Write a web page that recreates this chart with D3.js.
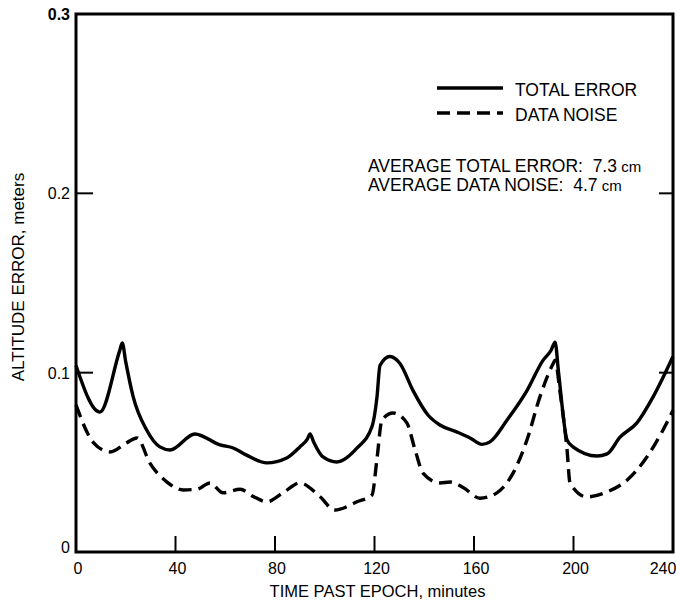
<!DOCTYPE html>
<meta charset="utf-8">
<html lang="en">
<style>
    body {
        margin: 0;
        background: #fff;
        font-family: "Liberation Sans", Arial, sans-serif;
    }
    .frame {
        fill: none;
        stroke: #000;
        stroke-width: 3px;
    }
    .tick-mark {
        stroke: #000;
        stroke-width: 2px;
    }
    .line {
        fill: none;
        stroke: #000;
        stroke-width: 3.4px;
        stroke-linejoin: round;
    }
    .dashed {
        stroke-dasharray: 13, 7;
    }
    text {
        fill: #000;
    }
</style>
<head>
    <script src="https://d3js.org/d3.v7.min.js"></script>
</head>
<body>
<svg width="676" height="607"></svg>
<script>

    // minutes past epoch / altitude error (meters)
    var totalTime = [0, 9.6, 17.5, 18.6, 20, 23, 28.4, 33.7, 37.8, 47.8, 57.9, 63.2, 68.6, 76.7, 84.7, 90,
        93, 94.1, 95.5, 99.3, 104.9, 113, 119, 121, 122.2, 126.2, 130.3, 135.5, 141.5, 146.3, 153,
        158.4, 163.2, 166.4, 173.3, 181.3, 187.8, 191, 192.6, 194, 197.4, 199.8, 209.4, 213.5,
        218.7, 225.5, 232, 240];
    var totalError = [0.104, 0.078, 0.112, 0.1166, 0.106, 0.0865, 0.068, 0.0586, 0.0569, 0.0658, 0.0597,
        0.058, 0.054, 0.0497, 0.0524, 0.0586, 0.063, 0.0658, 0.0615, 0.053, 0.0502, 0.058, 0.070,
        0.0865, 0.104, 0.109, 0.105, 0.090, 0.0764, 0.0708, 0.067, 0.0636, 0.060, 0.0614, 0.0736,
        0.090, 0.107, 0.1125, 0.117, 0.100, 0.0625, 0.0586, 0.0535, 0.0547, 0.064, 0.072, 0.0865,
        0.109];

    var noiseTime = [0, 7, 13.7, 20.5, 24.5, 29.7, 36.6, 43, 48.6, 53.9, 59.1, 66, 71.2, 76.7, 83.2, 90,
        98, 104, 113, 119, 121, 123, 127.5, 133, 136.3, 139.5, 146.3, 150.4, 155.6, 162.4, 169.2,
        175.7, 181.3, 186.5, 191.8, 192.6, 194.5, 197.4, 198.6, 205.4, 213.5, 221.5, 229.5, 236, 240];
    var dataNoise = [0.082, 0.061, 0.0558, 0.061, 0.0636, 0.0496, 0.039, 0.0346, 0.035, 0.0385, 0.033,
        0.035, 0.031, 0.028, 0.033, 0.0385, 0.031, 0.0234, 0.028, 0.0318, 0.052, 0.0736, 0.0775,
        0.072, 0.057, 0.044, 0.0385, 0.039, 0.036, 0.030, 0.033, 0.044, 0.0625, 0.0865, 0.105,
        0.107, 0.09, 0.057, 0.0385, 0.0307, 0.0335, 0.040, 0.053, 0.068, 0.079];

    var xTicks = [0, 40, 80, 120, 160, 200, 240];
    var yTicks = [0, 0.1, 0.2, 0.3];
    var yTickLabels = ["0", "0.1", "0.2", "0.3"];

    var legendNames = ["TOTAL ERROR", "DATA NOISE"];
    var notes = [["AVERAGE TOTAL ERROR:\u00a0\u00a07.3", "\u00a0cm"], ["AVERAGE DATA NOISE:\u00a0\u00a04.7", "\u00a0cm"]];

    var plotLeft = 76, plotRight = 673, plotTop = 14, plotBottom = 552;

    var x = d3.scaleLinear().domain([0, 240]).range([plotLeft, plotRight]);
    var y = d3.scaleLinear().domain([0, 0.3]).range([plotBottom, plotTop]);

    var svg = d3.select("svg");

    // frame
    svg.append("rect")
        .attr("class", "frame")
        .attr("x", plotLeft)
        .attr("y", plotTop)
        .attr("width", plotRight - plotLeft)
        .attr("height", plotBottom - plotTop);

    // inward tick marks
    svg.selectAll(".xt")
        .data(xTicks.slice(1, -1))
        .enter().append("line")
        .attr("class", "tick-mark")
        .attr("x1", d => x(d)).attr("x2", d => x(d))
        .attr("y1", plotBottom).attr("y2", plotBottom - 16);

    var yInner = yTicks.slice(1, -1);
    svg.selectAll(".ytl")
        .data(yInner)
        .enter().append("line")
        .attr("class", "tick-mark")
        .attr("x1", plotLeft).attr("x2", plotLeft + 17)
        .attr("y1", d => y(d)).attr("y2", d => y(d));
    svg.selectAll(".ytr")
        .data(yInner)
        .enter().append("line")
        .attr("class", "tick-mark")
        .attr("x1", plotRight).attr("x2", plotRight - 14)
        .attr("y1", d => y(d)).attr("y2", d => y(d));

    // tick labels
    svg.selectAll(".xl")
        .data(xTicks)
        .enter().append("text")
        .attr("x", d => x(d) + (d === 240 ? -10 : 2))
        .attr("y", plotBottom + 22)
        .style("text-anchor", "middle")
        .style("font-size", "16px")
        .text(d => d);

    svg.selectAll(".yl")
        .data(yTicks)
        .enter().append("text")
        .attr("x", plotLeft - 6)
        .attr("y", (d, i) => y(d) + (i === 0 ? 1 : 6))
        .style("text-anchor", "end")
        .style("font-size", "16px")
        .style("font-weight", (d, i) => i === 3 ? "bold" : "normal")
        .text((d, i) => yTickLabels[i]);

    // axis titles
    svg.append("text")
        .attr("x", (plotLeft + plotRight) / 2 + 3)
        .attr("y", 597)
        .style("text-anchor", "middle")
        .style("font-size", "16.5px")
        .text("TIME PAST EPOCH, minutes");

    svg.append("text")
        .attr("transform", "translate(24," + 277 + ") rotate(-90)")
        .style("text-anchor", "middle")
        .style("font-size", "17px")
        .text("ALTITUDE ERROR, meters");

    // curves
    var line = d3.line()
        .curve(d3.curveMonotoneX)
        .x(d => x(d[0]))
        .y(d => y(d[1]));

    svg.append("path")
        .attr("class", "line")
        .attr("d", line(d3.zip(totalTime, totalError)));

    svg.append("path")
        .attr("class", "line dashed")
        .attr("d", line(d3.zip(noiseTime, dataNoise)));

    // legend
    var legend = svg.selectAll(".legend")
        .data(legendNames)
        .enter().append("g")
        .attr("class", "legend")
        .attr("transform", (d, i) => "translate(437," + (88 + i * 25) + ")");

    legend.append("line")
        .attr("class", (d, i) => i ? "line dashed" : "line")
        .attr("x1", 0).attr("x2", 66)
        .attr("y1", 0).attr("y2", 0);

    legend.append("text")
        .attr("x", 78)
        .attr("y", 8)
        .style("font-size", "17.5px")
        .text(d => d);

    // averages
    var note = svg.selectAll(".note")
        .data(notes)
        .enter().append("text")
        .attr("x", 368)
        .attr("y", (d, i) => 172 + i * 19)
        .style("font-size", "17.5px");
    note.append("tspan").text(d => d[0]);
    note.append("tspan").style("font-size", "15px").text(d => d[1]);

</script>
</body>
</html>
